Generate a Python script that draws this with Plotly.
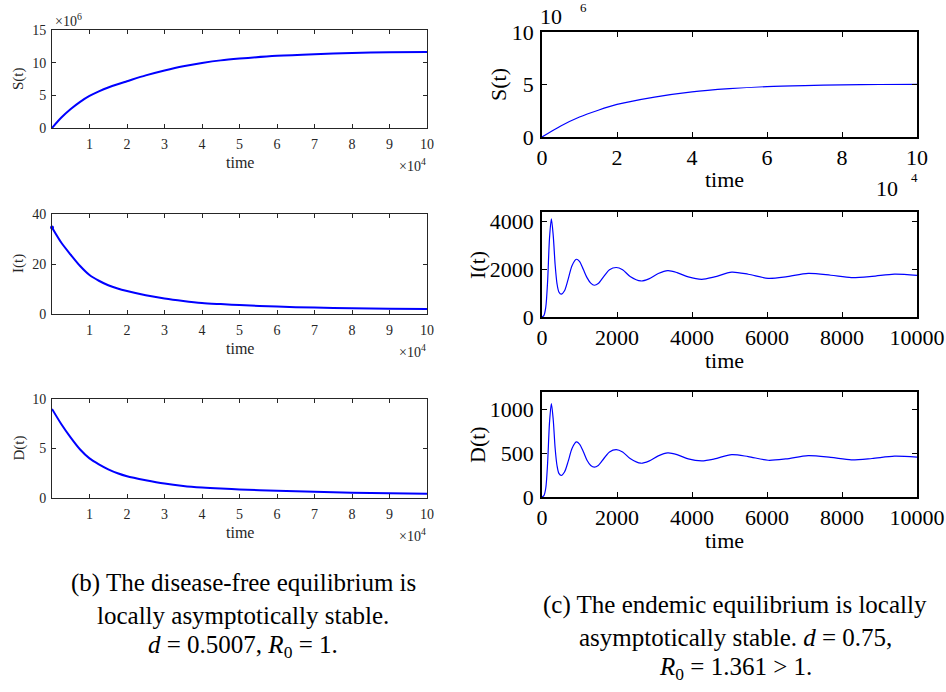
import plotly.graph_objects as go

W, H = 946, 692

# ---------------- data ----------------
# left column: disease-free case, time in units of 1e4
t_left = [0, 0.25, 0.5, 0.75, 1, 1.25, 1.5, 1.75, 2, 2.5, 3, 3.5, 4, 4.5, 5, 6, 7, 8, 9, 10]
S_left = [0, 1.6, 2.9, 4.0, 4.9, 5.6, 6.2, 6.7, 7.15, 8.05, 8.8, 9.45, 9.95, 10.35, 10.62, 11.05,
          11.3, 11.48, 11.6, 11.65]  # x1e6
I_left = [34.6, 28.5, 23.7, 19.2, 15.6, 13.3, 11.5, 10.2, 9.2, 7.5, 6.2, 5.2, 4.4, 3.95, 3.55,
          2.95, 2.55, 2.3, 2.1, 2.0]
D_left = [9.0, 7.45, 6.1, 4.9, 4.0, 3.4, 2.9, 2.5, 2.2, 1.8, 1.46, 1.22, 1.06, 0.95, 0.87,
          0.73, 0.62, 0.54, 0.48, 0.44]

# right column: endemic case
t_rS = [0, 0.5, 1, 1.5, 2, 3, 4, 5, 6, 7, 8, 9, 10]  # x1e4
S_right = [0, 1.05, 1.9, 2.55, 3.1, 3.8, 4.3, 4.6, 4.8, 4.9, 4.96, 5.0, 5.02]  # x1e6

t_rI = [0, 50, 100, 150, 200, 250, 300, 350, 400, 450, 515, 600, 700, 800, 915, 1000, 1100,
        1200, 1300, 1395, 1500, 1650, 1800, 1980, 2150, 2350, 2635, 2850, 3100, 3355, 3600,
        3900, 4260, 4600, 5060, 5500, 6030, 6500, 7100, 7700, 8250, 8800, 9400, 10000]
I_right = [0, 60, 400, 1500, 3300, 4110, 3400, 2200, 1400, 1050, 955, 1100, 1600, 2150, 2420,
           2330, 2000, 1650, 1420, 1330, 1400, 1700, 1980, 2075, 1980, 1700, 1510, 1600, 1820,
           1940, 1860, 1680, 1580, 1680, 1880, 1790, 1620, 1680, 1830, 1750, 1650, 1700, 1800, 1745]
D_right = [0, 15, 100, 390, 850, 1068, 880, 560, 360, 270, 246, 285, 410, 555, 629,
           605, 520, 420, 360, 341, 360, 440, 515, 542, 515, 440, 386, 410, 470,
           504, 485, 435, 413, 435, 485, 462, 420, 435, 473, 452, 424, 440, 466, 455]

left_xticks = [1, 2, 3, 4, 5, 6, 7, 8, 9, 10]
right_xticks4 = [0, 2, 4, 6, 8, 10]
right_xticks = [0, 2000, 4000, 6000, 8000, 10000]

# ---------------- layout helpers ----------------
def dx(a, b):
    return [a / W, b / W]

def dy(top, bottom):
    return [1 - bottom / H, 1 - top / H]

panels = [
    # (x0,x1,top,bottom)
    (52, 427, 30, 128),
    (52, 427, 214, 314),
    (52, 427, 399, 498),
    (542, 917, 32, 137),
    (542, 917, 212, 317),
    (542, 917, 392, 497),
]

LFONT = "Liberation Serif, Times New Roman, serif"
LC = "#262626"

fig = go.Figure()
traces = [
    (t_left, S_left), (t_left, I_left), (t_left, D_left),
    (t_rS, S_right), (t_rI, I_right), (t_rI, D_right),
]
for i, (x, y) in enumerate(traces):
    n = "" if i == 0 else str(i + 1)
    fig.add_trace(go.Scatter(x=x, y=y, mode="lines",
                             line=dict(color="#0000ff", width=2 if i < 3 else 1.2,
                                       shape="spline", smoothing=0.8),
                             xaxis="x" + n, yaxis="y" + n, showlegend=False, hoverinfo="skip"))
# small start dot on I(t) (left)
fig.add_trace(go.Scatter(x=t_left[:1], y=I_left[:1], mode="markers",
                         marker=dict(color="#0000ff", size=4), xaxis="x2", yaxis="y2",
                         showlegend=False, hoverinfo="skip", cliponaxis=False))

lay = {}
yranges = [[0, 15], [0, 40], [0, 10], [0, 10], [0, 4400], [0, 1200]]
yticks = [[0, 5, 10, 15], [0, 20, 40], [0, 5, 10], [0, 5, 10], [0, 2000, 4000], [0, 500, 1000]]
for i, (x0, x1, top, bot) in enumerate(panels):
    n = "" if i == 0 else str(i + 1)
    left = i < 3
    fsz = 14 if left else 22
    col = LC if left else "black"
    lw = 1 if left else 1.6
    if left:
        xr, xt = [0, 10], left_xticks
    elif i == 3:
        xr, xt = [0, 10], right_xticks4
    else:
        xr, xt = [0, 10000], right_xticks
    lay["xaxis" + n] = dict(domain=dx(x0, x1), anchor="y" + n, range=xr, tickvals=xt,
                            ticktext=[str(v) for v in xt],
                            ticks="inside", ticklen=4 if left else 5, tickcolor=col, mirror="ticks",
                            showline=True, linecolor=col, linewidth=lw, showgrid=False,
                            zeroline=False, automargin=False,
                            tickfont=dict(family=LFONT, size=fsz, color=col),
                            ticklabelstandoff=3 if left else 0)
    lay["yaxis" + n] = dict(domain=dy(top, bot), anchor="x" + n, range=yranges[i], tickvals=yticks[i],
                            ticktext=[str(v) for v in yticks[i]],
                            ticks="inside", ticklen=4 if left else 5, tickcolor=col, mirror="ticks",
                            showline=True, linecolor=col, linewidth=lw, showgrid=False,
                            zeroline=False, automargin=False,
                            tickfont=dict(family=LFONT, size=fsz, color=col),
                            ticklabelstandoff=2 if left else 2)

fig.update_layout(width=W, height=H, margin=dict(l=0, r=0, t=0, b=0, autoexpand=False),
                  paper_bgcolor="white", plot_bgcolor="white", **lay)

ann = []
def A(text, x, y, size, color="black", angle=0, xanchor="center", yanchor="middle", family=LFONT):
    ann.append(dict(text=text, x=x / W, y=1 - y / H, xref="paper", yref="paper", showarrow=False,
                    font=dict(family=family, size=size, color=color), textangle=angle,
                    xanchor=xanchor, yanchor=yanchor))

# left column labels
for lab, (x0, x1, top, bot) in zip(["S(t)", "I(t)", "D(t)"], panels[:3]):
    A(lab, 19, (top + bot) / 2, 15, LC, angle=-90)
    A("time", 240, bot + 34, 16, LC)
    A("×10<sup>4</sup>", 428, bot + 37, 14, LC, xanchor="right")
A("×10<sup>6</sup>", 53, 20, 14, LC, xanchor="left")

# right column labels
A("S(t)", 498, 84, 22, "black", angle=-90)
A("I(t)", 477, 265, 22, "black", angle=-90)
A("D(t)", 477, 445, 22, "black", angle=-90)
for (x0, x1, top, bot) in panels[3:]:
    A("time", 724, bot + 43, 22, "black")
A("10", 551, 17, 22, "black")
A("6", 583, 8, 13, "black")
A("10", 887, 188, 22, "black")
A("4", 914, 177, 13, "black")

# captions
CF = "Liberation Serif, Times New Roman, serif"
CS = 25
A("(b) The disease-free equilibrium is", 243, 583, CS, "black", family=CF)
A("locally asymptotically stable.", 243, 615, CS, "black", family=CF)
A("<i>d</i> = 0.5007, <i>R</i><sub>0</sub> = 1.", 243, 646, CS, "black", family=CF)
A("(c) The endemic equilibrium is locally", 735, 605, CS, "black", family=CF)
A("asymptotically stable. <i>d</i> = 0.75,", 735, 637, CS, "black", family=CF)
A("<i>R</i><sub>0</sub> = 1.361 &gt; 1.", 735, 668, CS, "black", family=CF)

fig.update_layout(annotations=ann)
fig.write_html("out.html")
